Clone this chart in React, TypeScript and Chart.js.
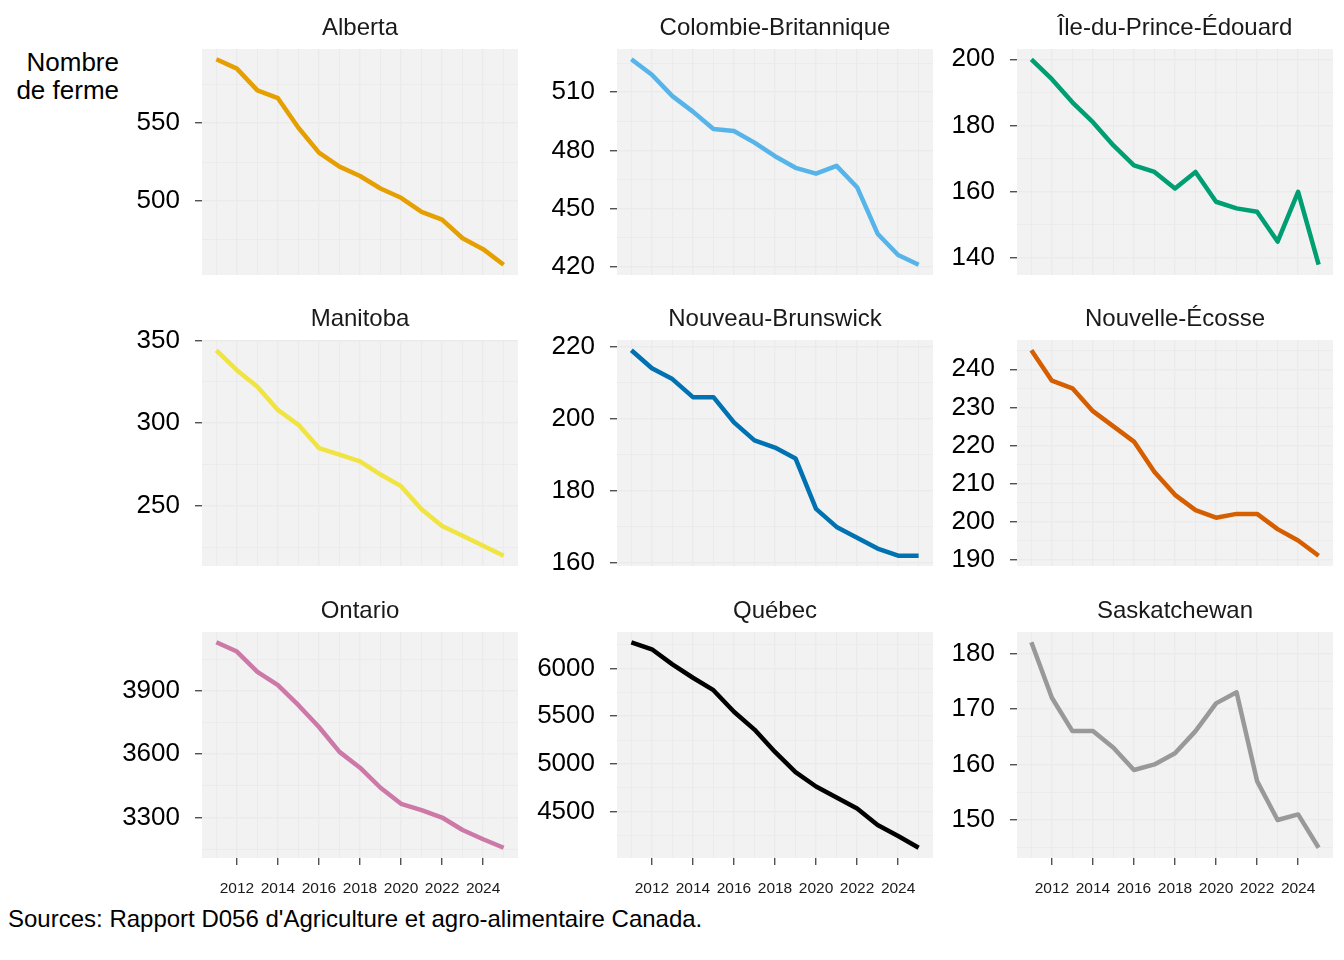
import React, { useEffect, useRef } from "react";
import { Chart, registerables } from "chart.js";

Chart.register(...registerables);

const FONT = '"Liberation Sans", Arial, Helvetica, sans-serif';

// ---------- data ----------
const years = [2011, 2012, 2013, 2014, 2015, 2016, 2017, 2018, 2019, 2020, 2021, 2022, 2023, 2024, 2025];
const xMajorTicks = [2012, 2014, 2016, 2018, 2020, 2022, 2024];

const provinces = [
  "Alberta",
  "Colombie-Britannique",
  "Île-du-Prince-Édouard",
  "Manitoba",
  "Nouveau-Brunswick",
  "Nouvelle-Écosse",
  "Ontario",
  "Québec",
  "Saskatchewan",
];

const albertaValues = [591, 585, 571, 566, 547, 531, 522, 516, 508, 502, 493, 488, 476, 469, 459];
const colombieBritanniqueValues = [527, 519, 508, 500, 491, 490, 484, 477, 471, 468, 472, 461, 437, 426, 421];
const ileDuPrinceEdouardValues = [200, 194, 187, 181, 174, 168, 166, 161, 166, 157, 155, 154, 145, 160, 138];
const manitobaValues = [344, 332, 322, 308, 299, 285, 281, 277, 269, 262, 248, 238, 232, 226, 220];
const nouveauBrunswickValues = [219, 214, 211, 206, 206, 199, 194, 192, 189, 175, 170, 167, 164, 162, 162];
const nouvelleEcosseValues = [245, 237, 235, 229, 225, 221, 213, 207, 203, 201, 202, 202, 198, 195, 191];
const ontarioValues = [4130, 4086, 3990, 3927, 3832, 3729, 3611, 3536, 3441, 3365, 3335, 3300, 3241, 3197, 3157];
const quebecValues = [6273, 6200, 6042, 5902, 5772, 5546, 5360, 5126, 4916, 4765, 4651, 4535, 4363, 4248, 4125];
const saskatchewanValues = [182, 172, 166, 166, 163, 159, 160, 162, 166, 171, 173, 157, 150, 151, 145];

const albertaTicks = [500, 550];
const colombieBritanniqueTicks = [420, 450, 480, 510];
const ileDuPrinceEdouardTicks = [140, 160, 180, 200];
const manitobaTicks = [250, 300, 350];
const nouveauBrunswickTicks = [160, 180, 200, 220];
const nouvelleEcosseTicks = [190, 200, 210, 220, 230, 240];
const ontarioTicks = [3300, 3600, 3900];
const quebecTicks = [4500, 5000, 5500, 6000];
const saskatchewanTicks = [150, 160, 170, 180];

const seriesValues = [
  albertaValues,
  colombieBritanniqueValues,
  ileDuPrinceEdouardValues,
  manitobaValues,
  nouveauBrunswickValues,
  nouvelleEcosseValues,
  ontarioValues,
  quebecValues,
  saskatchewanValues,
];
const seriesTicks = [
  albertaTicks,
  colombieBritanniqueTicks,
  ileDuPrinceEdouardTicks,
  manitobaTicks,
  nouveauBrunswickTicks,
  nouvelleEcosseTicks,
  ontarioTicks,
  quebecTicks,
  saskatchewanTicks,
];

// ---------- styles ----------
const seriesColors = ["#E69F00", "#56B4E9", "#009E73", "#F0E442", "#0072B2", "#D55E00", "#CC79A7", "#000000", "#999999"];
const PANEL_BG = "#F2F2F2";
const GRID_COLOR = "#EBEBEB";
const TICK_COLOR = "#333333";

const PANEL_LEFT = [202, 617, 1017];
const PANEL_TOP = [49, 340, 632];
const PANEL_W = 316;
const PANEL_H = 226;
const Y_AXIS_W = 100;
const TITLE_H = 36;
const X_AXIS_H = 38;
const PAD_R = 4;
const PAD_B = 4;

function expandRange(min: number, max: number, mult = 0.05): [number, number] {
  const r = max - min;
  return [min - r * mult, max + r * mult];
}

function withMinor(majors: number[], lo: number, hi: number): number[] {
  const step = majors[1] - majors[0];
  const half = step / 2;
  const out: number[] = [];
  const start = majors[0] - half;
  const n = Math.round((majors[majors.length - 1] + half - start) / half);
  for (let i = 0; i <= n; i++) {
    const v = start + i * half;
    if (v >= lo && v <= hi) out.push(v);
  }
  return out;
}

const panelBg = {
  id: "panelBg",
  beforeDraw(chart: any) {
    const { ctx, chartArea: a } = chart;
    ctx.save();
    ctx.fillStyle = PANEL_BG;
    ctx.fillRect(a.left, a.top, a.right - a.left, a.bottom - a.top);
    ctx.restore();
  },
};

function Panel({ index }: { index: number }) {
  const ref = useRef<HTMLCanvasElement | null>(null);
  const col = index % 3;
  const row = Math.floor(index / 3);
  const bottomRow = row === 2;
  const width = Y_AXIS_W + PANEL_W + PAD_R;
  const height = TITLE_H + PANEL_H + (bottomRow ? X_AXIS_H : 0) + PAD_B;
  const left = PANEL_LEFT[col] - Y_AXIS_W;
  const top = PANEL_TOP[row] - TITLE_H;

  useEffect(() => {
    const values = seriesValues[index];
    const majors = seriesTicks[index];
    const [yMin, yMax] = expandRange(Math.min(...values), Math.max(...values));
    const [xMin, xMax] = expandRange(years[0], years[years.length - 1]);
    const yAll = withMinor(majors, yMin, yMax);
    const xAll = withMinor(xMajorTicks, xMin, xMax);
    const isYMajor = (v: number) => majors.includes(v);
    const isXMajor = (v: number) => xMajorTicks.includes(v);
    const zeroPad = (s: any) => {
      s.paddingTop = 0;
      s.paddingBottom = 0;
      s.paddingLeft = 0;
      s.paddingRight = 0;
    };

    const chart = new Chart(ref.current as HTMLCanvasElement, {
      type: "line",
      data: {
        datasets: [
          {
            data: years.map((yr, i) => ({ x: yr, y: values[i] })),
            borderColor: seriesColors[index],
            backgroundColor: seriesColors[index],
            borderWidth: 4.5,
            pointRadius: 0,
            tension: 0,
            borderJoinStyle: "round",
            borderCapStyle: "butt",
            fill: false,
          },
        ],
      },
      options: {
        animation: false,
        responsive: false,
        events: [],
        layout: { padding: { left: 0, right: PAD_R, top: 0, bottom: PAD_B }, autoPadding: false },
        plugins: {
          legend: { display: false },
          tooltip: { enabled: false },
          title: {
            display: true,
            text: provinces[index],
            fullSize: false,
            align: "center",
            color: "#1A1A1A",
            font: { family: FONT, size: 24, weight: "normal", lineHeight: "28px" },
            padding: { top: 1, bottom: 7 },
          },
        },
        scales: {
          x: {
            type: "linear",
            min: xMin,
            max: xMax,
            bounds: "data",
            afterBuildTicks: (s: any) => {
              s.ticks = xAll.map((v) => ({ value: v }));
            },
            afterFit: (s: any) => {
              s.height = bottomRow ? X_AXIS_H : 0;
              zeroPad(s);
            },
            border: { display: false },
            grid: {
              color: GRID_COLOR,
              lineWidth: (c: any) => (c.tick && isXMajor(c.tick.value) ? 1.5 : 1),
              drawTicks: bottomRow,
              tickLength: 7,
              tickWidth: 1.2,
              tickColor: (c: any) => (c.tick && isXMajor(c.tick.value) ? TICK_COLOR : "rgba(0,0,0,0)"),
            },
            ticks: {
              display: bottomRow,
              autoSkip: false,
              maxRotation: 0,
              minRotation: 0,
              padding: 14,
              color: "#1A1A1A",
              font: { family: FONT, size: 15.5 },
              callback: (v: any) => (isXMajor(Number(v)) ? String(v) : ""),
            },
          },
          y: {
            type: "linear",
            min: yMin,
            max: yMax,
            bounds: "data",
            afterBuildTicks: (s: any) => {
              s.ticks = yAll.map((v) => ({ value: v }));
            },
            afterFit: (s: any) => {
              s.width = Y_AXIS_W;
              zeroPad(s);
            },
            border: { display: false },
            grid: {
              color: GRID_COLOR,
              lineWidth: (c: any) => (c.tick && isYMajor(c.tick.value) ? 1.5 : 1),
              drawTicks: true,
              tickLength: 7,
              tickWidth: 1.2,
              tickColor: (c: any) => (c.tick && isYMajor(c.tick.value) ? TICK_COLOR : "rgba(0,0,0,0)"),
            },
            ticks: {
              autoSkip: false,
              padding: 15,
              color: "#000000",
              font: { family: FONT, size: 26 },
              callback: (v: any) => (isYMajor(Number(v)) ? String(v) : ""),
            },
          },
        },
      },
      plugins: [panelBg],
    } as any);
    return () => chart.destroy();
  }, [index]);

  return (
    <canvas
      ref={ref}
      width={width}
      height={height}
      style={{ position: "absolute", left, top, width, height }}
    />
  );
}

export default function App() {
  return (
    <div
      style={{
        position: "absolute",
        left: 0,
        top: 0,
        width: 1344,
        height: 960,
        background: "#FFFFFF",
        fontFamily: FONT,
        overflow: "hidden",
      }}
    >
      <div
        style={{
          position: "absolute",
          left: 0,
          top: 48,
          width: 119,
          textAlign: "right",
          fontSize: 26,
          lineHeight: "28px",
          color: "#000000",
        }}
      >
        Nombre
        <br />
        de ferme
      </div>
      {provinces.map((_, i) => (
        <Panel key={i} index={i} />
      ))}
      <div
        style={{
          position: "absolute",
          left: 8,
          top: 905,
          fontSize: 24,
          lineHeight: "28px",
          color: "#000000",
          whiteSpace: "nowrap",
        }}
      >
        Sources: Rapport D056 d'Agriculture et agro-alimentaire Canada.
      </div>
    </div>
  );
}
